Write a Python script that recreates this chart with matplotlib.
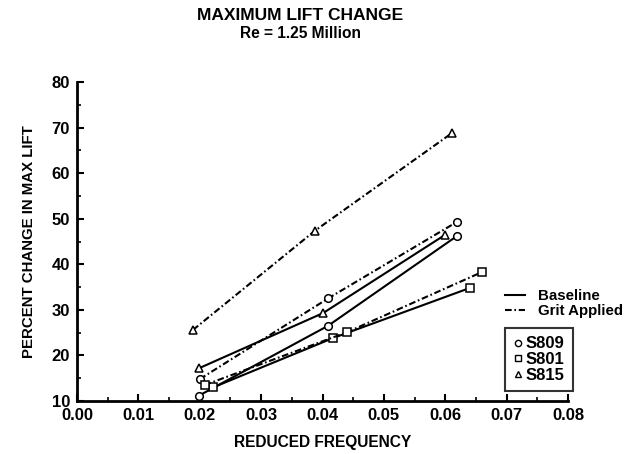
import matplotlib
matplotlib.use("Agg")
import matplotlib.pyplot as plt
from matplotlib.lines import Line2D
from matplotlib.ticker import MultipleLocator, FormatStrFormatter

plt.rcParams['font.family'] = ['Liberation Sans', 'DejaVu Sans']
plt.rcParams['font.weight'] = 'bold'

# ---- data ----
s809_base_x = [0.0199, 0.0409, 0.0619]
s809_base_y = [11.2, 26.5, 46.2]
s809_grit_x = [0.0200, 0.0409, 0.0619]
s809_grit_y = [14.8, 32.5, 49.3]

s801_base_x = [0.0222, 0.0417, 0.0640]
s801_base_y = [13.0, 23.8, 34.8]
s801_grit_x = [0.0208, 0.0440, 0.0660]
s801_grit_y = [13.5, 25.1, 38.3]

s815_base_x = [0.0199, 0.0401, 0.0599]
s815_base_y = [17.2, 29.3, 46.4]
s815_grit_x = [0.0189, 0.0388, 0.0611]
s815_grit_y = [25.6, 47.4, 68.8]

x_ticks = [0.00, 0.01, 0.02, 0.03, 0.04, 0.05, 0.06, 0.07, 0.08]
y_ticks = [10, 20, 30, 40, 50, 60, 70, 80]

title = "MAXIMUM LIFT CHANGE"
subtitle = "Re = 1.25 Million"
xlabel = "REDUCED FREQUENCY"
ylabel = "PERCENT CHANGE IN MAX LIFT"

# ---- figure ----
fig = plt.figure(figsize=(6.26, 4.54), dpi=100)
ax = fig.add_axes([77/626, 1 - 401/454, (568-77)/626, (401-82)/454])

grit_ls = (0, (3.2, 1.3, 0.8, 1.3))
lw = 1.5
ms = 5.5
mk = dict(markerfacecolor='white', markeredgecolor='black', markeredgewidth=1.1, markersize=ms)

series = [
    (s809_base_x, s809_base_y, 'o', '-'),
    (s809_grit_x, s809_grit_y, 'o', grit_ls),
    (s801_base_x, s801_base_y, 's', '-'),
    (s801_grit_x, s801_grit_y, 's', grit_ls),
    (s815_base_x, s815_base_y, '^', '-'),
    (s815_grit_x, s815_grit_y, '^', grit_ls),
]
for xs, ys, m, ls in series:
    ax.plot(xs, ys, color='black', linestyle=ls, linewidth=lw, marker=m, **mk)

ax.set_xlim(0.0, 0.08)
ax.set_ylim(10, 80)
ax.set_xticks(x_ticks)
ax.set_yticks(y_ticks)
ax.xaxis.set_major_formatter(FormatStrFormatter('%.2f'))
ax.xaxis.set_minor_locator(MultipleLocator(0.005))
ax.yaxis.set_minor_locator(MultipleLocator(5))

for s in ['top', 'right']:
    ax.spines[s].set_visible(False)
for s in ['left', 'bottom']:
    ax.spines[s].set_linewidth(2.0)

ax.tick_params(axis='both', which='major', direction='in', length=5, width=1.5,
               labelsize=12, colors='black')
ax.tick_params(axis='both', which='minor', direction='in', length=3, width=1.2)
ax.tick_params(axis='x', which='major', pad=5)
ax.tick_params(axis='y', which='major', pad=5)
for lab in ax.get_xticklabels() + ax.get_yticklabels():
    lab.set_fontweight('bold')

ax.set_xlabel(xlabel, fontsize=11.2, fontweight='bold', labelpad=9)
ax.set_ylabel(ylabel, fontsize=10.8, fontweight='bold', labelpad=11)

fig.text(300/626, 1 - 15/454, title, ha='center', va='center', fontsize=12.5, fontweight='bold')
fig.text(300/626, 1 - 33/454, subtitle, ha='center', va='center', fontsize=11.2, fontweight='bold')

# ---- legends ----
style_handles = [Line2D([], [], color='black', linestyle='-', linewidth=lw),
                 Line2D([], [], color='black', linestyle=grit_ls, linewidth=lw)]
leg1 = ax.legend(style_handles, ['Baseline', 'Grit Applied'], loc='upper left',
                 bbox_to_anchor=(505/626, 1 - 289/454), bbox_transform=fig.transFigure,
                 frameon=False, handlelength=1.3, handletextpad=0.9,
                 labelspacing=0.05, borderpad=0, borderaxespad=0,
                 prop={'weight': 'bold', 'size': 10.8})
ax.add_artist(leg1)

mk_handles = [Line2D([], [], linestyle='none', marker=m, markerfacecolor='white',
                     markeredgecolor='black', markeredgewidth=1.0, markersize=4.5)
              for m in ['o', 's', '^']]
leg2 = ax.legend(mk_handles, ['S809', 'S801', 'S815'], loc='upper left',
                 bbox_to_anchor=(505/626, 1 - 328/454), bbox_transform=fig.transFigure,
                 frameon=True, fancybox=False, handlelength=0.5, handletextpad=0.25,
                 labelspacing=0.05, borderpad=0.5, borderaxespad=0,
                 prop={'weight': 'bold', 'size': 12})
leg2.get_frame().set_edgecolor('black')
leg2.get_frame().set_linewidth(1.5)

fig.savefig('out.png', dpi=100)
